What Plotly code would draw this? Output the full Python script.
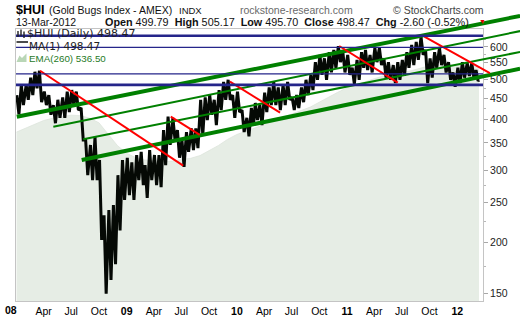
import math
import pandas as pd
import plotly.graph_objects as go

W, H = 520, 318
PLOT_L, PLOT_R, PLOT_T, PLOT_B = 16, 483, 29, 301

# ---------------- data ----------------
# half-month periods with the high / low of the black daily-bar band
period_starts = [
    "2008-01-01", "2008-01-16", "2008-02-01", "2008-02-16", "2008-03-01", "2008-03-16",
    "2008-04-01", "2008-04-16", "2008-05-01", "2008-05-16", "2008-06-01", "2008-06-16",
    "2008-07-01", "2008-07-16", "2008-08-01", "2008-08-16", "2008-09-01", "2008-09-16",
    "2008-10-01", "2008-10-16", "2008-11-01", "2008-11-16", "2008-12-01", "2008-12-16",
    "2009-01-01", "2009-01-16", "2009-02-01", "2009-02-16", "2009-03-01", "2009-03-16",
    "2009-04-01", "2009-04-16", "2009-05-01", "2009-05-16", "2009-06-01", "2009-06-16",
    "2009-07-01", "2009-07-16", "2009-08-01", "2009-08-16", "2009-09-01", "2009-09-16",
    "2009-10-01", "2009-10-16", "2009-11-01", "2009-11-16", "2009-12-01", "2009-12-16",
    "2010-01-01", "2010-01-16", "2010-02-01", "2010-02-16", "2010-03-01", "2010-03-16",
    "2010-04-01", "2010-04-16", "2010-05-01", "2010-05-16", "2010-06-01", "2010-06-16",
    "2010-07-01", "2010-07-16", "2010-08-01", "2010-08-16", "2010-09-01", "2010-09-16",
    "2010-10-01", "2010-10-16", "2010-11-01", "2010-11-16", "2010-12-01", "2010-12-16",
    "2011-01-01", "2011-01-16", "2011-02-01", "2011-02-16", "2011-03-01", "2011-03-16",
    "2011-04-01", "2011-04-16", "2011-05-01", "2011-05-16", "2011-06-01", "2011-06-16",
    "2011-07-01", "2011-07-16", "2011-08-01", "2011-08-16", "2011-09-01", "2011-09-16",
    "2011-10-01", "2011-10-16", "2011-11-01", "2011-11-16", "2011-12-01", "2011-12-16",
    "2012-01-01", "2012-01-16", "2012-02-01", "2012-02-16", "2012-03-01",
]
period_highs = [
    458, 485, 485, 505, 522, 525, 467, 458, 433, 446, 452, 467,
    471, 467, 426, 356, 346, 362, 318, 233, 240, 247, 292, 318,
    322, 314, 327, 333, 309, 336, 327, 327, 376, 406, 403, 376,
    356, 372, 380, 380, 446, 452, 458, 446, 471, 493, 499, 458,
    467, 421, 403, 426, 438, 433, 464, 478, 493, 478, 485, 493,
    452, 458, 478, 499, 513, 551, 574, 563, 583, 590, 603, 583,
    574, 534, 558, 583, 590, 574, 597, 597, 563, 551, 542, 551,
    558, 583, 607, 617, 634, 590, 563, 583, 597, 574, 551, 520,
    534, 551, 548, 548, 527,
]
period_lows = [
    411, 433, 446, 458, 476, 440, 433, 410, 391, 403, 403, 416,
    433, 421, 356, 292, 284, 284, 203, 150, 162, 177, 214, 254,
    261, 254, 284, 276, 257, 284, 276, 273, 309, 346, 356, 322,
    306, 333, 336, 340, 366, 398, 410, 387, 421, 446, 446, 403,
    416, 372, 363, 387, 398, 387, 416, 433, 433, 421, 433, 446,
    421, 426, 440, 458, 471, 499, 513, 499, 520, 532, 551, 520,
    513, 488, 499, 534, 527, 520, 551, 542, 505, 499, 490, 499,
    510, 534, 542, 558, 574, 490, 505, 534, 542, 520, 499, 480,
    490, 505, 510, 505, 496,
]
last_date = "2012-03-13"
last_close = 498.47

# EMA(260) (upper edge of the shaded area)
ema_dates = [
    "2008-01-02", "2008-02-01", "2008-03-01", "2008-04-01", "2008-05-01", "2008-06-01",
    "2008-07-01", "2008-08-01", "2008-09-01", "2008-10-01", "2008-11-01", "2008-12-01",
    "2009-01-01", "2009-02-01", "2009-03-01", "2009-04-01", "2009-05-01", "2009-06-01",
    "2009-07-01", "2009-08-01", "2009-09-01", "2009-10-01", "2009-11-01", "2009-12-01",
    "2010-01-01", "2010-02-01", "2010-03-01", "2010-04-01", "2010-05-01", "2010-06-01",
    "2010-07-01", "2010-08-01", "2010-09-01", "2010-10-01", "2010-11-01", "2010-12-01",
    "2011-01-01", "2011-02-01", "2011-03-01", "2011-04-01", "2011-05-01", "2011-06-01",
    "2011-07-01", "2011-08-01", "2011-09-01", "2011-10-01", "2011-11-01", "2011-12-01",
    "2012-01-01", "2012-02-01", "2012-03-01", "2012-03-13",
]
ema_values = [
    372, 380, 389, 397, 402, 406, 409, 408, 402, 392, 368, 345,
    330, 322, 318, 316, 315, 316, 318, 321, 326, 335, 345, 357,
    367, 374, 380, 387, 395, 404, 412, 419, 428, 440, 453, 465,
    477, 486, 494, 502, 510, 516, 520, 525, 533, 540, 543, 544,
    541, 539, 537, 536.5,
]

# horizontal levels (navy)
hline_levels = [639, 599, 516, 485]
hline_widths = [2.6, 1.3, 1.3, 2.6]

# green channel lines (start date/price -> end date/price)
green_x0 = ["2008-01-03", "2008-05-03", "2008-08-10", "2008-08-05"]
green_y0 = [405.6, 383.5, 357.3, 318.0]
green_x1 = ["2012-07-27", "2012-07-27", "2012-07-27", "2012-07-27"]
green_y1 = [714.5, 656.0, 583.4, 531.0]
green_w = [4, 2, 2, 4]

# red down-trend lines
red_x0 = ["2008-03-20", "2009-05-27", "2009-12-09", "2010-12-06", "2011-09-14"]
red_y0 = [525.0, 405.6, 493.7, 603.4, 635.7]
red_x1 = ["2009-07-07", "2009-08-31", "2010-05-24", "2011-06-18", "2012-04-18"]
red_y1 = [308.0, 366.0, 414.8, 491.0, 518.4]

# axes
x_range = ["2007-12-31 08:00", "2012-03-26 05:00"]
y_range_prices = [144.0, 663.8]
y_tick_vals = [150, 200, 250, 300, 350, 400, 450, 500, 550, 600]
y_minor_vals = [175, 225, 275, 325, 375, 425, 475, 525, 575, 625]
x_tick_vals = ["2008-04-01", "2008-07-01", "2008-10-01", "2009-01-01", "2009-04-01",
               "2009-07-01", "2009-10-01", "2010-01-01", "2010-04-01", "2010-07-01",
               "2010-10-01", "2011-01-01", "2011-04-01", "2011-07-01", "2011-10-01",
               "2012-01-01"]
x_tick_text = ["Apr", "Jul", "Oct", "<b>09</b>", "Apr", "Jul", "Oct", "<b>10</b>", "Apr",
               "Jul", "Oct", "<b>11</b>", "Apr", "Jul", "Oct", "<b>12</b>"]

# ---------------- build figure ----------------
def px_x(x):
    return x / W

def px_y(y):
    return 1 - y / H

ly0, ly1 = math.log10(y_range_prices[0]), math.log10(y_range_prices[1])
kk = (ly1 - ly0) / (PLOT_B - PLOT_T)
y2_range = [ly0 - (H - PLOT_B) * kk, ly1 + PLOT_T * kk]
d0, d1 = pd.Timestamp(x_range[0]), pd.Timestamp(x_range[1])
k = (d1 - d0) / (PLOT_R - PLOT_L)
x2_range = [str(d0 - k * PLOT_L), str(d1 + k * (W - PLOT_R))]

fig = go.Figure()

# EMA shaded area
fig.add_trace(go.Scatter(
    x=ema_dates, y=ema_values, mode="lines", fill="tozeroy",
    fillcolor="#e6ede5", line=dict(color="#dde5dc", width=0.8),
    xaxis="x", yaxis="y", hoverinfo="skip"))

# price path (zig-zag through each half-month's high and low)
p_dates, p_vals = [], []
for s, hi, lo in zip(period_starts, period_highs, period_lows):
    t = pd.Timestamp(s)
    p_dates += [t + pd.Timedelta(days=2), t + pd.Timedelta(days=9)]
    p_vals += [hi, lo]
p_dates.append(pd.Timestamp(last_date))
p_vals.append(last_close)
fig.add_trace(go.Scatter(
    x=p_dates, y=p_vals, mode="lines",
    line=dict(color="#050905", width=3.0), xaxis="x", yaxis="y", hoverinfo="skip"))

# green channel lines (unclipped overlay axes spanning the whole image)
for a, b, c, d, w in zip(green_x0, green_y0, green_x1, green_y1, green_w):
    fig.add_trace(go.Scatter(x=[a, c], y=[b, d], mode="lines",
                             line=dict(color="#008000", width=w),
                             xaxis="x2", yaxis="y2", hoverinfo="skip"))
# red lines
for a, b, c, d in zip(red_x0, red_y0, red_x1, red_y1):
    fig.add_trace(go.Scatter(x=[a, c], y=[b, d], mode="lines",
                             line=dict(color="#ff0000", width=2),
                             xaxis="x2", yaxis="y2", hoverinfo="skip"))

shapes = []
for lvl, w in zip(hline_levels, hline_widths):
    shapes.append(dict(type="line", xref="x domain", yref="y", x0=0, x1=1,
                       y0=lvl, y1=lvl, line=dict(color="#25258a", width=w), layer="above"))

# legend icons
def pathp(pts):
    return "M" + " L".join(f"{px_x(x):.5f},{px_y(y):.5f}" for x, y in pts) + " Z"

for bx, top, bot in [(18, 31, 37), (21, 29.5, 36), (24, 31.5, 38)]:
    shapes.append(dict(type="line", xref="paper", yref="paper", x0=px_x(bx), x1=px_x(bx),
                       y0=px_y(top), y1=px_y(bot), line=dict(color="#222", width=1.4)))
shapes.append(dict(type="line", xref="paper", yref="paper", x0=px_x(16.5), x1=px_x(28),
                   y0=px_y(42), y1=px_y(42), line=dict(color="#111", width=1.5)))
shapes.append(dict(type="path", xref="paper", yref="paper",
                   path=pathp([(16.5, 62), (19.5, 55.5), (22, 58), (26.5, 53.5), (26.5, 62)]),
                   fillcolor="#b9d6b6", line=dict(width=0)))

SANS = "Liberation Sans, Arial, sans-serif"
VERD = "DejaVu Sans, Verdana, sans-serif"

def ann(text, x, y, size, color="#000", family=SANS, anchor="left"):
    return dict(xref="paper", yref="paper", x=px_x(x), y=px_y(y), xanchor=anchor,
                yanchor="middle", text=text, showarrow=False, borderpad=0,
                font=dict(size=size, color=color, family=family))

annotations = [
    ann("<b>$HUI</b>", 15, 9.5, 12.5, "#000"),
    ann("(Gold Bugs Index - AMEX)", 48, 10, 10.5, "#111"),
    ann("INDX", 178, 10.5, 9.5, "#111"),
    ann("rockstone-research.com", 239, 10, 10.5, "#6a6a6a"),
    ann("© StockCharts.com", 392, 10, 10.5, "#444"),
    ann("13-Mar-2012", 15, 22, 10.5, "#111"),
    ann("<b>Open</b> 499.79  <b>High</b> 505.17  <b>Low</b> 495.70  <b>Close</b> 498.47  "
        "<b>Chg</b> -2.60 (-0.52%)", 104, 22, 10.8, "#111"),
    ann("▼", 477.5, 22, 7, "#e00000"),
    ann("$HUI (Daily) 498.47", 26, 34, 11, "#222", VERD),
    ann("MA(1) 498.47", 28, 45.5, 10.5, "#222", VERD),
    ann("EMA(260) 536.50", 28, 58.5, 9.8, "#1f7a1f"),
    ann("<b>08</b>", 11.3, 310, 10.5, "#000", SANS, "center"),
]

fig.update_layout(
    width=W, height=H, margin=dict(l=0, r=0, t=0, b=0),
    paper_bgcolor="white", plot_bgcolor="rgba(0,0,0,0)", showlegend=False,
    xaxis=dict(domain=[px_x(PLOT_L), px_x(PLOT_R)], anchor="y", type="date",
               range=x_range, showline=True, linecolor="#c4c4c4", linewidth=1, mirror=True,
               showgrid=False, zeroline=False, ticks="", tickvals=x_tick_vals,
               ticktext=x_tick_text, tickfont=dict(size=10.5, color="#000", family=SANS)),
    yaxis=dict(domain=[1 - PLOT_B / H, 1 - PLOT_T / H], anchor="x", type="log",
               range=[ly0, ly1], side="right", showline=True, linecolor="#c4c4c4",
               linewidth=1, mirror=True, showgrid=False, zeroline=False,
               ticks="outside", ticklen=4, tickcolor="#a8a8a8", tickvals=y_tick_vals,
               ticktext=[str(v) for v in y_tick_vals],
               tickfont=dict(size=10.5, color="#222", family=SANS),
               minor=dict(tickvals=y_minor_vals, ticks="outside", ticklen=2,
                          tickcolor="#b8b8b8")),
    xaxis2=dict(domain=[0, 1], anchor="y2", type="date", range=x2_range, visible=False),
    yaxis2=dict(domain=[0, 1], anchor="x2", type="log", range=y2_range, visible=False),
    shapes=shapes, annotations=annotations,
)

fig.write_html("out.html")
